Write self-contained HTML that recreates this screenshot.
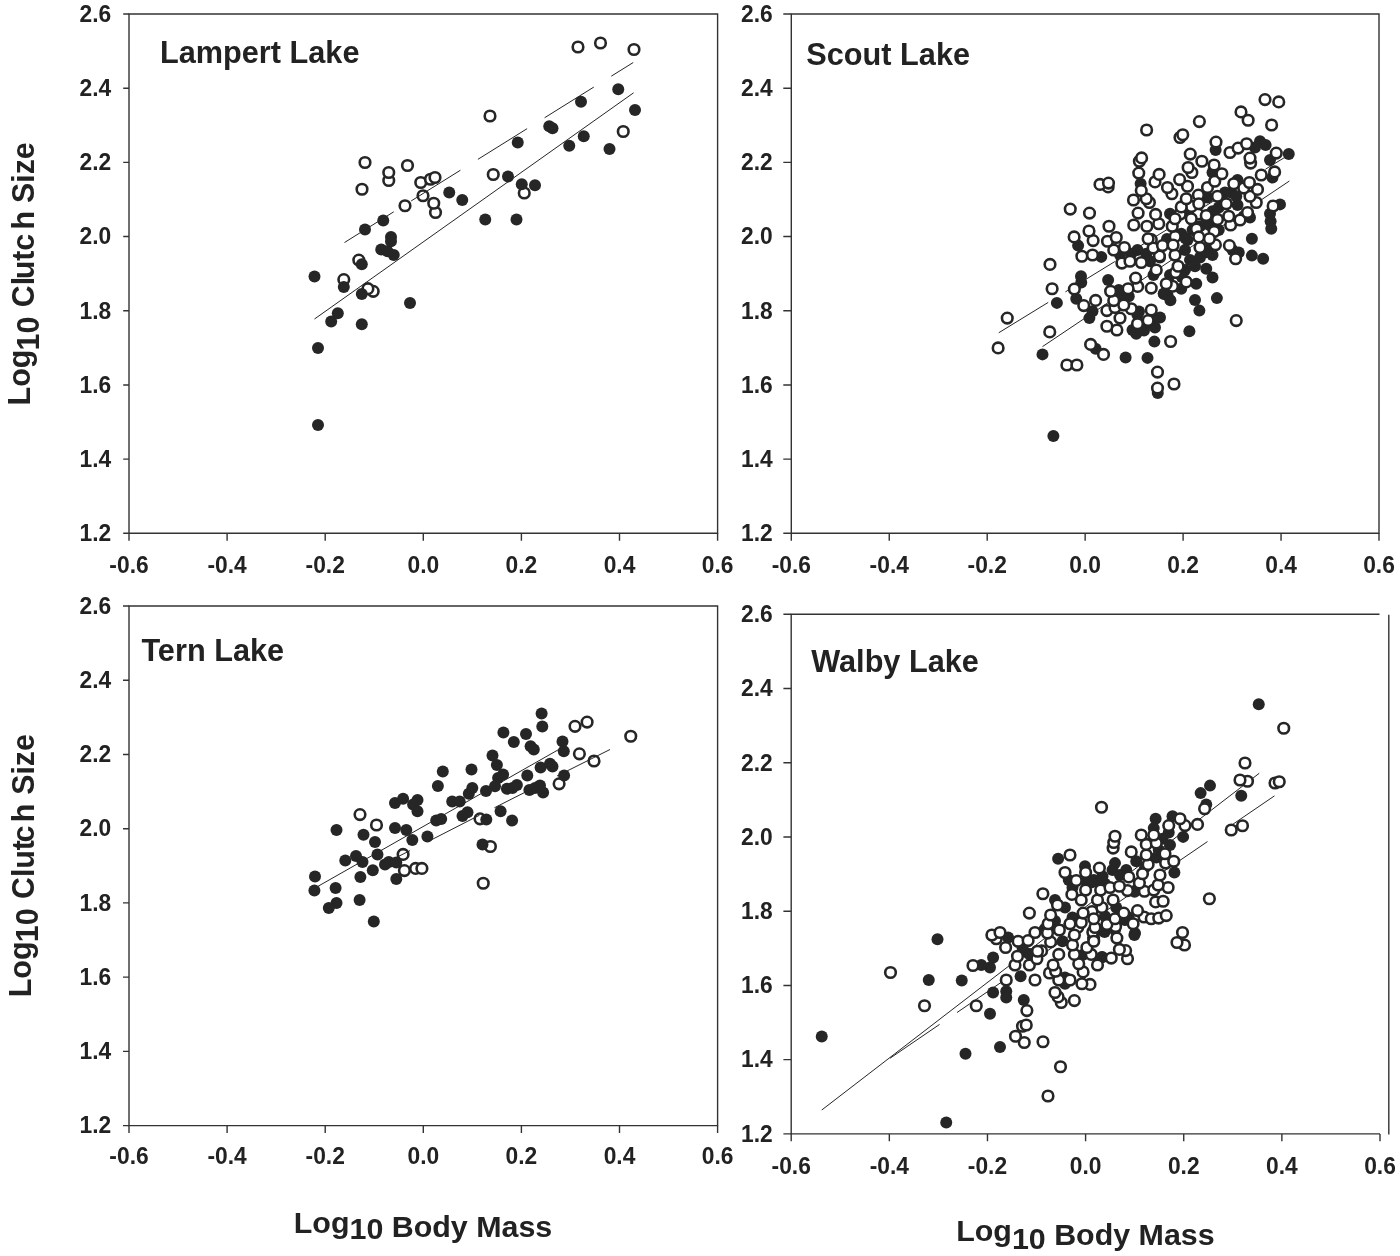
<!DOCTYPE html>
<html><head><meta charset="utf-8"><title>Log10 Clutch Size vs Log10 Body Mass</title>
<style>
html,body{margin:0;padding:0;background:#fff}
svg{display:block;will-change:transform}
text{font-family:"Liberation Sans",Arial,Helvetica,sans-serif;font-weight:bold;fill:#222}
.tk text{font-size:22.8px}
.ti{font-size:30.7px}
.at{font-size:30.4px}
</style></head><body>
<svg width="1400" height="1256" viewBox="0 0 1400 1256">
<rect width="1400" height="1256" fill="#fff"/>
<g id="p1">
<path d="M129 14H717.6V533.3H129Z" fill="none" stroke="#333" stroke-width="1.4"/><path d="M123.2 14H129M123.2 88.19H129M123.2 162.37H129M123.2 236.56H129M123.2 310.74H129M123.2 384.93H129M123.2 459.11H129M123.2 533.3H129M129 533.3V540.7M227.1 533.3V540.7M325.2 533.3V540.7M423.3 533.3V540.7M521.4 533.3V540.7M619.5 533.3V540.7M717.6 533.3V540.7" fill="none" stroke="#333" stroke-width="1.4"/><g class="tk"><text transform="translate(111.3 21.8) scale(1 1.03)" text-anchor="end">2.6</text><text transform="translate(111.3 95.99) scale(1 1.03)" text-anchor="end">2.4</text><text transform="translate(111.3 170.17) scale(1 1.03)" text-anchor="end">2.2</text><text transform="translate(111.3 244.36) scale(1 1.03)" text-anchor="end">2.0</text><text transform="translate(111.3 318.54) scale(1 1.03)" text-anchor="end">1.8</text><text transform="translate(111.3 392.73) scale(1 1.03)" text-anchor="end">1.6</text><text transform="translate(111.3 466.91) scale(1 1.03)" text-anchor="end">1.4</text><text transform="translate(111.3 541.1) scale(1 1.03)" text-anchor="end">1.2</text><text transform="translate(129 573) scale(1 1.03)" text-anchor="middle">-0.6</text><text transform="translate(227.1 573) scale(1 1.03)" text-anchor="middle">-0.4</text><text transform="translate(325.2 573) scale(1 1.03)" text-anchor="middle">-0.2</text><text transform="translate(423.3 573) scale(1 1.03)" text-anchor="middle">0.0</text><text transform="translate(521.4 573) scale(1 1.03)" text-anchor="middle">0.2</text><text transform="translate(619.5 573) scale(1 1.03)" text-anchor="middle">0.4</text><text transform="translate(717.6 573) scale(1 1.03)" text-anchor="middle">0.6</text></g><text class="ti" transform="translate(159.9 62.6) scale(1 1.027)">Lampert Lake</text>
<g fill="#fff" stroke="#262626" stroke-width="2.6"><circle cx="373.2" cy="291.3" r="5.3"/><circle cx="367.9" cy="288.7" r="5.3"/><circle cx="343.8" cy="279.6" r="5.3"/><circle cx="358.8" cy="260.1" r="5.3"/><circle cx="435.5" cy="212.5" r="5.3"/><circle cx="405" cy="205.75" r="5.3"/><circle cx="433.75" cy="203.25" r="5.3"/><circle cx="423" cy="195.75" r="5.3"/><circle cx="524.25" cy="193" r="5.3"/><circle cx="362" cy="189.25" r="5.3"/><circle cx="420.75" cy="182.5" r="5.3"/><circle cx="388.75" cy="180.5" r="5.3"/><circle cx="430.5" cy="179.25" r="5.3"/><circle cx="435" cy="177.5" r="5.3"/><circle cx="493.25" cy="174.5" r="5.3"/><circle cx="388.75" cy="172.5" r="5.3"/><circle cx="407.5" cy="165.5" r="5.3"/><circle cx="365" cy="162.5" r="5.3"/><circle cx="623.25" cy="131.5" r="5.3"/><circle cx="490" cy="116" r="5.3"/><circle cx="634" cy="49.5" r="5.3"/><circle cx="578" cy="47" r="5.3"/><circle cx="600.5" cy="43" r="5.3"/></g>
<g fill="#262626"><circle cx="618.25" cy="89.25" r="6"/><circle cx="581" cy="101.75" r="6"/><circle cx="635" cy="110" r="6"/><circle cx="549.25" cy="126.25" r="6"/><circle cx="552.5" cy="128.25" r="6"/><circle cx="583.75" cy="136.25" r="6"/><circle cx="569.25" cy="145.75" r="6"/><circle cx="609.5" cy="149" r="6"/><circle cx="517.75" cy="142.5" r="6"/><circle cx="508" cy="176.5" r="6"/><circle cx="521.75" cy="184.25" r="6"/><circle cx="535" cy="185.25" r="6"/><circle cx="449.25" cy="192.5" r="6"/><circle cx="462.25" cy="200" r="6"/><circle cx="485.25" cy="219.5" r="6"/><circle cx="516.5" cy="219.5" r="6"/><circle cx="383.25" cy="220.5" r="6"/><circle cx="365" cy="229.5" r="6"/><circle cx="391" cy="237" r="6"/><circle cx="391" cy="241.25" r="6"/><circle cx="381.25" cy="249.5" r="6"/><circle cx="387.5" cy="251.25" r="6"/><circle cx="393.75" cy="255" r="6"/><circle cx="361.8" cy="264.2" r="6"/><circle cx="314.5" cy="276.4" r="6"/><circle cx="343.8" cy="286.9" r="6"/><circle cx="361.8" cy="293.9" r="6"/><circle cx="410" cy="303" r="6"/><circle cx="337.8" cy="313.2" r="6"/><circle cx="331.2" cy="321.4" r="6"/><circle cx="361.8" cy="324.2" r="6"/><circle cx="318" cy="347.9" r="6"/><circle cx="318" cy="424.9" r="6"/></g>
<g stroke="#262626" stroke-width="1" fill="none"><line x1="314.5" y1="319" x2="633.6" y2="92.8"/><line x1="344.5" y1="242.5" x2="633.25" y2="62.5" stroke-dasharray="58 20.6"/></g>
</g>
<g id="p2">
<path d="M791.3 14H1379V533.3H791.3Z" fill="none" stroke="#333" stroke-width="1.4"/><path d="M783.3 14H791.3M783.3 88.19H791.3M783.3 162.37H791.3M783.3 236.56H791.3M783.3 310.74H791.3M783.3 384.93H791.3M783.3 459.11H791.3M783.3 533.3H791.3M791.3 533.3V540.7M889.25 533.3V540.7M987.2 533.3V540.7M1085.15 533.3V540.7M1183.1 533.3V540.7M1281.05 533.3V540.7M1379 533.3V540.7" fill="none" stroke="#333" stroke-width="1.4"/><g class="tk"><text transform="translate(772.8 21.8) scale(1 1.03)" text-anchor="end">2.6</text><text transform="translate(772.8 95.99) scale(1 1.03)" text-anchor="end">2.4</text><text transform="translate(772.8 170.17) scale(1 1.03)" text-anchor="end">2.2</text><text transform="translate(772.8 244.36) scale(1 1.03)" text-anchor="end">2.0</text><text transform="translate(772.8 318.54) scale(1 1.03)" text-anchor="end">1.8</text><text transform="translate(772.8 392.73) scale(1 1.03)" text-anchor="end">1.6</text><text transform="translate(772.8 466.91) scale(1 1.03)" text-anchor="end">1.4</text><text transform="translate(772.8 541.1) scale(1 1.03)" text-anchor="end">1.2</text><text transform="translate(791.3 573) scale(1 1.03)" text-anchor="middle">-0.6</text><text transform="translate(889.25 573) scale(1 1.03)" text-anchor="middle">-0.4</text><text transform="translate(987.2 573) scale(1 1.03)" text-anchor="middle">-0.2</text><text transform="translate(1085.15 573) scale(1 1.03)" text-anchor="middle">0.0</text><text transform="translate(1183.1 573) scale(1 1.03)" text-anchor="middle">0.2</text><text transform="translate(1281.05 573) scale(1 1.03)" text-anchor="middle">0.4</text><text transform="translate(1379 573) scale(1 1.03)" text-anchor="middle">0.6</text></g><text class="ti" transform="translate(806.3 65.2) scale(1 1.027)">Scout Lake</text>
<g stroke="#262626" stroke-width="1" fill="none"><line x1="1042.5" y1="346.6" x2="1289.4" y2="181"/><line x1="998.75" y1="332.75" x2="1288" y2="155.4" stroke-dasharray="58 20.2"/></g>
<g fill="#262626"><circle cx="1140.62" cy="183.75" r="6"/><circle cx="1260" cy="141.25" r="6"/><circle cx="1265.62" cy="145" r="6"/><circle cx="1255" cy="147.5" r="6"/><circle cx="1215.62" cy="150" r="6"/><circle cx="1288.75" cy="154" r="6"/><circle cx="1270" cy="160" r="6"/><circle cx="1212.5" cy="172.5" r="6"/><circle cx="1272.5" cy="177.5" r="6"/><circle cx="1237.5" cy="180" r="6"/><circle cx="1280" cy="204.38" r="6"/><circle cx="1270" cy="213.75" r="6"/><circle cx="1270.62" cy="221.25" r="6"/><circle cx="1271.25" cy="228.75" r="6"/><circle cx="1251.88" cy="238.75" r="6"/><circle cx="1251.88" cy="255.62" r="6"/><circle cx="1263.12" cy="258.75" r="6"/><circle cx="1216.88" cy="298.12" r="6"/><circle cx="1195" cy="300" r="6"/><circle cx="1199.38" cy="310.62" r="6"/><circle cx="1189.38" cy="331.25" r="6"/><circle cx="1108.12" cy="280" r="6"/><circle cx="1167.5" cy="295" r="6"/><circle cx="1212.5" cy="277.5" r="6"/><circle cx="1206.25" cy="268.75" r="6"/><circle cx="1181.25" cy="233.75" r="6"/><circle cx="1185" cy="250" r="6"/><circle cx="1190" cy="260" r="6"/><circle cx="1200" cy="257.5" r="6"/><circle cx="1212.5" cy="255" r="6"/><circle cx="1170" cy="275" r="6"/><circle cx="1196.25" cy="283.75" r="6"/><circle cx="1181.25" cy="288.75" r="6"/><circle cx="1146.25" cy="253.75" r="6"/><circle cx="1137.5" cy="250" r="6"/><circle cx="1150" cy="261.25" r="6"/><circle cx="1120" cy="255" r="6"/><circle cx="1122.5" cy="295" r="6"/><circle cx="1137.5" cy="315" r="6"/><circle cx="1160" cy="317.5" r="6"/><circle cx="1155" cy="327.5" r="6"/><circle cx="1132.5" cy="330" r="6"/><circle cx="1231.25" cy="192.5" r="6"/><circle cx="1237.5" cy="205" r="6"/><circle cx="1218.75" cy="207.5" r="6"/><circle cx="1250" cy="217.5" r="6"/><circle cx="1207.5" cy="197.5" r="6"/><circle cx="1200" cy="226.25" r="6"/><circle cx="1218.75" cy="230" r="6"/><circle cx="1170" cy="213.75" r="6"/><circle cx="1232.5" cy="250" r="6"/><circle cx="1238.75" cy="252.5" r="6"/><circle cx="1187.5" cy="240" r="6"/><circle cx="1195" cy="266.25" r="6"/><circle cx="1185" cy="270" r="6"/><circle cx="1206.25" cy="250" r="6"/><circle cx="1192.5" cy="230" r="6"/><circle cx="1243.75" cy="216.25" r="6"/><circle cx="1225" cy="192.5" r="6"/><circle cx="1236.25" cy="196.25" r="6"/><circle cx="1212.5" cy="211.25" r="6"/><circle cx="1160" cy="257.5" r="6"/><circle cx="1131.25" cy="253.75" r="6"/><circle cx="1152.5" cy="317.5" r="6"/><circle cx="1128.75" cy="296.25" r="6"/><circle cx="1118.75" cy="290" r="6"/><circle cx="1163.75" cy="293.75" r="6"/><circle cx="1056.88" cy="302.88" r="6"/><circle cx="1042.5" cy="354.38" r="6"/><circle cx="1081" cy="276.25" r="6"/><circle cx="1081.25" cy="282.5" r="6"/><circle cx="1076.25" cy="298.75" r="6"/><circle cx="1092.5" cy="311.25" r="6"/><circle cx="1089.38" cy="318.12" r="6"/><circle cx="1125.62" cy="357.5" r="6"/><circle cx="1095.62" cy="348.75" r="6"/><circle cx="1078.12" cy="245.62" r="6"/><circle cx="1101.25" cy="256.88" r="6"/><circle cx="1154.38" cy="341.62" r="6"/><circle cx="1147.5" cy="357.88" r="6"/><circle cx="1163.75" cy="293.75" r="6"/><circle cx="1136.25" cy="333.75" r="6"/><circle cx="1143.75" cy="327.5" r="6"/><circle cx="1157.75" cy="393.12" r="6"/><circle cx="1053.38" cy="436" r="6"/><circle cx="1187.7" cy="212.7" r="6"/><circle cx="1209.7" cy="225.3" r="6"/><circle cx="1206.6" cy="220.9" r="6"/><circle cx="1185.2" cy="237.9" r="6"/><circle cx="1206.6" cy="252.3" r="6"/><circle cx="1167" cy="239.1" r="6"/><circle cx="1153.5" cy="275.1" r="6"/><circle cx="1181.8" cy="277" r="6"/><circle cx="1170.4" cy="300.3" r="6"/><circle cx="1144" cy="330.5" r="6"/><circle cx="1139" cy="311.6" r="6"/></g>
<g fill="#fff" stroke="#262626" stroke-width="2.6"><circle cx="1137.7" cy="286.4" r="5.3"/><circle cx="1159.4" cy="256.1" r="5.3"/><circle cx="1215.4" cy="244.8" r="5.3"/><circle cx="1151.3" cy="239.7" r="5.3"/><circle cx="1175.2" cy="236.6" r="5.3"/><circle cx="1214.2" cy="231.6" r="5.3"/><circle cx="1196.5" cy="229" r="5.3"/><circle cx="1180.2" cy="214" r="5.3"/><circle cx="1197.8" cy="214" r="5.3"/><circle cx="1191.5" cy="206.4" r="5.3"/><circle cx="1198.4" cy="195.1" r="5.3"/></g>
<g fill="#fff" stroke="#262626" stroke-width="2.6"><circle cx="1157.5" cy="388.12" r="5.3"/><circle cx="1174" cy="384" r="5.3"/><circle cx="1157.5" cy="372.12" r="5.3"/><circle cx="1066.88" cy="365" r="5.3"/><circle cx="1076.88" cy="365" r="5.3"/><circle cx="1103.5" cy="354.38" r="5.3"/><circle cx="998.12" cy="347.88" r="5.3"/><circle cx="1090.62" cy="344.38" r="5.3"/><circle cx="1170.62" cy="341.5" r="5.3"/><circle cx="1049.75" cy="331.88" r="5.3"/><circle cx="1116.88" cy="330" r="5.3"/><circle cx="1106.88" cy="326.25" r="5.3"/><circle cx="1137.5" cy="323.75" r="5.3"/><circle cx="1148.12" cy="320.62" r="5.3"/><circle cx="1236.25" cy="320.62" r="5.3"/><circle cx="1120" cy="318.12" r="5.3"/><circle cx="1007.25" cy="318.12" r="5.3"/><circle cx="1106.88" cy="310.62" r="5.3"/><circle cx="1151.25" cy="310" r="5.3"/><circle cx="1131.25" cy="308.75" r="5.3"/><circle cx="1115" cy="307.5" r="5.3"/><circle cx="1083.75" cy="305.62" r="5.3"/><circle cx="1123.75" cy="305" r="5.3"/><circle cx="1113.75" cy="300.62" r="5.3"/><circle cx="1095.62" cy="300.38" r="5.3"/><circle cx="1110.62" cy="291.25" r="5.3"/><circle cx="1074.38" cy="289.12" r="5.3"/><circle cx="1128.12" cy="288.75" r="5.3"/><circle cx="1052.12" cy="288.75" r="5.3"/><circle cx="1151.25" cy="288.12" r="5.3"/><circle cx="1172.5" cy="286.25" r="5.3"/><circle cx="1166.25" cy="283.75" r="5.3"/><circle cx="1186.25" cy="281.88" r="5.3"/><circle cx="1135.62" cy="278.12" r="5.3"/><circle cx="1175.62" cy="272.5" r="5.3"/><circle cx="1156.25" cy="270" r="5.3"/><circle cx="1178.12" cy="266.25" r="5.3"/><circle cx="1050" cy="264.38" r="5.3"/><circle cx="1121.88" cy="263.12" r="5.3"/><circle cx="1141.25" cy="262.5" r="5.3"/><circle cx="1130" cy="261.25" r="5.3"/><circle cx="1235.62" cy="258.75" r="5.3"/><circle cx="1081.88" cy="256.25" r="5.3"/><circle cx="1175" cy="255" r="5.3"/><circle cx="1092.5" cy="255" r="5.3"/><circle cx="1113.75" cy="250" r="5.3"/><circle cx="1153.12" cy="248.12" r="5.3"/><circle cx="1124.38" cy="247.5" r="5.3"/><circle cx="1200" cy="247.5" r="5.3"/><circle cx="1162.5" cy="245.62" r="5.3"/><circle cx="1229.38" cy="245.62" r="5.3"/><circle cx="1173.12" cy="245" r="5.3"/><circle cx="1107.5" cy="241.25" r="5.3"/><circle cx="1093.12" cy="240.62" r="5.3"/><circle cx="1148.12" cy="238.75" r="5.3"/><circle cx="1209.38" cy="238.75" r="5.3"/><circle cx="1116.25" cy="237.5" r="5.3"/><circle cx="1074.12" cy="236.88" r="5.3"/><circle cx="1198.75" cy="236.88" r="5.3"/><circle cx="1089" cy="231" r="5.3"/><circle cx="1109" cy="226.25" r="5.3"/><circle cx="1146.88" cy="226.25" r="5.3"/><circle cx="1172.25" cy="226.25" r="5.3"/><circle cx="1133.75" cy="225" r="5.3"/><circle cx="1230.62" cy="225" r="5.3"/><circle cx="1158.75" cy="223.75" r="5.3"/><circle cx="1240" cy="220" r="5.3"/><circle cx="1217.5" cy="219.38" r="5.3"/><circle cx="1191.25" cy="218.75" r="5.3"/><circle cx="1175" cy="218.75" r="5.3"/><circle cx="1228.75" cy="216.25" r="5.3"/><circle cx="1206.25" cy="215.62" r="5.3"/><circle cx="1155.62" cy="214.38" r="5.3"/><circle cx="1089.5" cy="213.12" r="5.3"/><circle cx="1138.12" cy="213.12" r="5.3"/><circle cx="1247.5" cy="212.5" r="5.3"/><circle cx="1070.25" cy="209.12" r="5.3"/><circle cx="1181.25" cy="206.88" r="5.3"/><circle cx="1273.12" cy="206" r="5.3"/><circle cx="1198.75" cy="203.75" r="5.3"/><circle cx="1226.25" cy="203.75" r="5.3"/><circle cx="1149.38" cy="202.5" r="5.3"/><circle cx="1256.25" cy="202.5" r="5.3"/><circle cx="1133.5" cy="200" r="5.3"/><circle cx="1146.25" cy="198.75" r="5.3"/><circle cx="1186.25" cy="198.75" r="5.3"/><circle cx="1217.5" cy="196.25" r="5.3"/><circle cx="1250" cy="196.25" r="5.3"/><circle cx="1171.88" cy="193.75" r="5.3"/><circle cx="1141.25" cy="190.62" r="5.3"/><circle cx="1257.5" cy="189.38" r="5.3"/><circle cx="1243.75" cy="188.12" r="5.3"/><circle cx="1167.5" cy="187.5" r="5.3"/><circle cx="1207.5" cy="187.5" r="5.3"/><circle cx="1108.12" cy="186.88" r="5.3"/><circle cx="1187.5" cy="186.25" r="5.3"/><circle cx="1100" cy="184.38" r="5.3"/><circle cx="1233.75" cy="183.75" r="5.3"/><circle cx="1108.5" cy="183.12" r="5.3"/><circle cx="1249.38" cy="182.5" r="5.3"/><circle cx="1155" cy="181.88" r="5.3"/><circle cx="1214.75" cy="181.25" r="5.3"/><circle cx="1179.62" cy="179.62" r="5.3"/><circle cx="1261.25" cy="175" r="5.3"/><circle cx="1159.12" cy="174.38" r="5.3"/><circle cx="1221.88" cy="173.75" r="5.3"/><circle cx="1138.75" cy="173.12" r="5.3"/><circle cx="1191.88" cy="172.5" r="5.3"/><circle cx="1274.62" cy="171.88" r="5.3"/><circle cx="1188.12" cy="167.5" r="5.3"/><circle cx="1214.12" cy="165" r="5.3"/><circle cx="1250.62" cy="163.12" r="5.3"/><circle cx="1139.38" cy="161.25" r="5.3"/><circle cx="1201.88" cy="161.25" r="5.3"/><circle cx="1250" cy="158.12" r="5.3"/><circle cx="1141.62" cy="157.88" r="5.3"/><circle cx="1190.25" cy="154.12" r="5.3"/><circle cx="1276.25" cy="153.12" r="5.3"/><circle cx="1230" cy="152.5" r="5.3"/><circle cx="1238.12" cy="148.12" r="5.3"/><circle cx="1246.62" cy="143.75" r="5.3"/><circle cx="1216" cy="142.12" r="5.3"/><circle cx="1180" cy="137.5" r="5.3"/><circle cx="1182.75" cy="134.75" r="5.3"/><circle cx="1146.62" cy="130" r="5.3"/><circle cx="1271.62" cy="125" r="5.3"/><circle cx="1199.38" cy="121.62" r="5.3"/><circle cx="1248.12" cy="120.25" r="5.3"/><circle cx="1241" cy="111.88" r="5.3"/><circle cx="1278.75" cy="101.88" r="5.3"/><circle cx="1265" cy="99.62" r="5.3"/></g>
</g>
<g id="p3">
<path d="M129 606H717.6V1125.6H129Z" fill="none" stroke="#333" stroke-width="1.4"/><path d="M123 606H129M123 680.23H129M123 754.46H129M123 828.69H129M123 902.91H129M123 977.14H129M123 1051.37H129M123 1125.6H129M129 1125.6V1132.9M227.1 1125.6V1132.9M325.2 1125.6V1132.9M423.3 1125.6V1132.9M521.4 1125.6V1132.9M619.5 1125.6V1132.9M717.6 1125.6V1132.9" fill="none" stroke="#333" stroke-width="1.4"/><g class="tk"><text transform="translate(111.3 613.8) scale(1 1.03)" text-anchor="end">2.6</text><text transform="translate(111.3 688.03) scale(1 1.03)" text-anchor="end">2.4</text><text transform="translate(111.3 762.26) scale(1 1.03)" text-anchor="end">2.2</text><text transform="translate(111.3 836.49) scale(1 1.03)" text-anchor="end">2.0</text><text transform="translate(111.3 910.71) scale(1 1.03)" text-anchor="end">1.8</text><text transform="translate(111.3 984.94) scale(1 1.03)" text-anchor="end">1.6</text><text transform="translate(111.3 1059.17) scale(1 1.03)" text-anchor="end">1.4</text><text transform="translate(111.3 1133.4) scale(1 1.03)" text-anchor="end">1.2</text><text transform="translate(129 1164) scale(1 1.03)" text-anchor="middle">-0.6</text><text transform="translate(227.1 1164) scale(1 1.03)" text-anchor="middle">-0.4</text><text transform="translate(325.2 1164) scale(1 1.03)" text-anchor="middle">-0.2</text><text transform="translate(423.3 1164) scale(1 1.03)" text-anchor="middle">0.0</text><text transform="translate(521.4 1164) scale(1 1.03)" text-anchor="middle">0.2</text><text transform="translate(619.5 1164) scale(1 1.03)" text-anchor="middle">0.4</text><text transform="translate(717.6 1164) scale(1 1.03)" text-anchor="middle">0.6</text></g><text class="ti" transform="translate(141.4 661) scale(1 1.027)">Tern Lake</text>
<g fill="#fff" stroke="#262626" stroke-width="2.6"><circle cx="483.25" cy="883.25" r="5.3"/><circle cx="404.4" cy="870.6" r="5.3"/><circle cx="415.6" cy="868.4" r="5.3"/><circle cx="421.9" cy="868.4" r="5.3"/><circle cx="403.1" cy="854.4" r="5.3"/><circle cx="490.4" cy="846.5" r="5.3"/><circle cx="376.5" cy="825" r="5.3"/><circle cx="480" cy="818.8" r="5.3"/><circle cx="360" cy="814.6" r="5.3"/><circle cx="559.1" cy="783.8" r="5.3"/><circle cx="594" cy="761" r="5.3"/><circle cx="579.4" cy="753.8" r="5.3"/><circle cx="630.75" cy="736.25" r="5.3"/><circle cx="575" cy="726.3" r="5.3"/><circle cx="587.1" cy="722.1" r="5.3"/></g>
<g fill="#262626"><circle cx="437.9" cy="786" r="6"/><circle cx="395" cy="803.1" r="6"/><circle cx="403.1" cy="798.8" r="6"/><circle cx="417.5" cy="800" r="6"/><circle cx="413.1" cy="804.4" r="6"/><circle cx="417.5" cy="811.3" r="6"/><circle cx="452.2" cy="801.6" r="6"/><circle cx="459.7" cy="801.6" r="6"/><circle cx="468.8" cy="793.8" r="6"/><circle cx="462.5" cy="816" r="6"/><circle cx="467.5" cy="812.2" r="6"/><circle cx="436.2" cy="820.6" r="6"/><circle cx="441.2" cy="818.9" r="6"/><circle cx="336.5" cy="830" r="6"/><circle cx="395" cy="828.1" r="6"/><circle cx="406.3" cy="830" r="6"/><circle cx="363.5" cy="834.8" r="6"/><circle cx="375" cy="841.9" r="6"/><circle cx="412.3" cy="840" r="6"/><circle cx="427.4" cy="836.5" r="6"/><circle cx="377.5" cy="854.6" r="6"/><circle cx="345.3" cy="860.4" r="6"/><circle cx="356" cy="856" r="6"/><circle cx="362.5" cy="861.9" r="6"/><circle cx="385" cy="864.4" r="6"/><circle cx="388.8" cy="861.9" r="6"/><circle cx="396.3" cy="862.5" r="6"/><circle cx="372.8" cy="870.3" r="6"/><circle cx="360.4" cy="877.1" r="6"/><circle cx="396.3" cy="879.1" r="6"/><circle cx="315" cy="876.5" r="6"/><circle cx="314.4" cy="890.6" r="6"/><circle cx="335.6" cy="887.9" r="6"/><circle cx="359.6" cy="900" r="6"/><circle cx="336.5" cy="903.1" r="6"/><circle cx="328.8" cy="907.9" r="6"/><circle cx="373.8" cy="921.6" r="6"/><circle cx="541.6" cy="713.4" r="6"/><circle cx="542.3" cy="726.6" r="6"/><circle cx="503.4" cy="732.5" r="6"/><circle cx="526" cy="734.1" r="6"/><circle cx="513.8" cy="741.9" r="6"/><circle cx="530.6" cy="746.3" r="6"/><circle cx="533.8" cy="749.6" r="6"/><circle cx="562.5" cy="741.6" r="6"/><circle cx="563.8" cy="751.3" r="6"/><circle cx="492.5" cy="755.6" r="6"/><circle cx="496.9" cy="765" r="6"/><circle cx="550" cy="763.8" r="6"/><circle cx="552.5" cy="766.5" r="6"/><circle cx="540.6" cy="767.5" r="6"/><circle cx="442.8" cy="771.6" r="6"/><circle cx="471.5" cy="769.6" r="6"/><circle cx="503.1" cy="774.4" r="6"/><circle cx="498.1" cy="778.1" r="6"/><circle cx="527.3" cy="775.6" r="6"/><circle cx="564.1" cy="775.6" r="6"/><circle cx="472.3" cy="788.1" r="6"/><circle cx="495" cy="786.3" r="6"/><circle cx="486" cy="791" r="6"/><circle cx="516.9" cy="785" r="6"/><circle cx="512.5" cy="788.1" r="6"/><circle cx="506.9" cy="788.8" r="6"/><circle cx="540" cy="785.6" r="6"/><circle cx="535" cy="788.1" r="6"/><circle cx="529.4" cy="790" r="6"/><circle cx="543.1" cy="792.5" r="6"/><circle cx="500.6" cy="811.3" r="6"/><circle cx="486.3" cy="819.4" r="6"/><circle cx="512.1" cy="820.6" r="6"/><circle cx="482.5" cy="844.4" r="6"/></g>
<g stroke="#262626" stroke-width="1" fill="none"><line x1="318.1" y1="886.25" x2="559.6" y2="749"/><line x1="398.75" y1="856.25" x2="410" y2="850.6"/><line x1="432" y1="839.5" x2="479.5" y2="815.2"/><line x1="494.4" y1="807.75" x2="543" y2="783.2"/><line x1="557" y1="776" x2="610" y2="749.5"/></g>
</g>
<g id="p4">
<path d="M1379.5 614.3H791.2V1133.9H1380M1388.8 614.7V1134.4" fill="none" stroke="#333" stroke-width="1.4"/><path d="M783.4 614.3H791.2M783.4 688.53H791.2M783.4 762.76H791.2M783.4 836.99H791.2M783.4 911.21H791.2M783.4 985.44H791.2M783.4 1059.67H791.2M783.4 1133.9H791.2M791.2 1133.9V1141.2M889.33 1133.9V1141.2M987.47 1133.9V1141.2M1085.6 1133.9V1141.2M1183.73 1133.9V1141.2M1281.87 1133.9V1141.2M1380 1133.9V1141.2" fill="none" stroke="#333" stroke-width="1.4"/><g class="tk"><text transform="translate(772.8 622.1) scale(1 1.03)" text-anchor="end">2.6</text><text transform="translate(772.8 696.33) scale(1 1.03)" text-anchor="end">2.4</text><text transform="translate(772.8 770.56) scale(1 1.03)" text-anchor="end">2.2</text><text transform="translate(772.8 844.79) scale(1 1.03)" text-anchor="end">2.0</text><text transform="translate(772.8 919.01) scale(1 1.03)" text-anchor="end">1.8</text><text transform="translate(772.8 993.24) scale(1 1.03)" text-anchor="end">1.6</text><text transform="translate(772.8 1067.47) scale(1 1.03)" text-anchor="end">1.4</text><text transform="translate(772.8 1141.7) scale(1 1.03)" text-anchor="end">1.2</text><text transform="translate(791.2 1173.6) scale(1 1.03)" text-anchor="middle">-0.6</text><text transform="translate(889.33 1173.6) scale(1 1.03)" text-anchor="middle">-0.4</text><text transform="translate(987.47 1173.6) scale(1 1.03)" text-anchor="middle">-0.2</text><text transform="translate(1085.6 1173.6) scale(1 1.03)" text-anchor="middle">0.0</text><text transform="translate(1183.73 1173.6) scale(1 1.03)" text-anchor="middle">0.2</text><text transform="translate(1281.87 1173.6) scale(1 1.03)" text-anchor="middle">0.4</text><text transform="translate(1380 1173.6) scale(1 1.03)" text-anchor="middle">0.6</text></g><text class="ti" transform="translate(811.2 672.2) scale(1 1.027)">Walby Lake</text>
<g stroke="#262626" stroke-width="1" fill="none"><line x1="821.75" y1="1110" x2="1259.25" y2="773.25"/><line x1="890" y1="1058.25" x2="1275" y2="795.5" stroke-dasharray="60 21.1"/></g>
<g fill="#262626"><circle cx="1210" cy="785.62" r="6"/><circle cx="1200.62" cy="793.12" r="6"/><circle cx="1206.25" cy="804.38" r="6"/><circle cx="1172.5" cy="816.25" r="6"/><circle cx="1155.62" cy="818.75" r="6"/><circle cx="1153.75" cy="828.12" r="6"/><circle cx="1183.12" cy="836.88" r="6"/><circle cx="1168.75" cy="832.5" r="6"/><circle cx="1170" cy="845" r="6"/><circle cx="1158.75" cy="850" r="6"/><circle cx="1058.12" cy="858.75" r="6"/><circle cx="1085" cy="866.25" r="6"/><circle cx="1115" cy="863.12" r="6"/><circle cx="1112.5" cy="870" r="6"/><circle cx="1126.25" cy="870" r="6"/><circle cx="1136.25" cy="861.25" r="6"/><circle cx="1174.38" cy="872.5" r="6"/><circle cx="1093.75" cy="880" r="6"/><circle cx="1102.5" cy="876.25" r="6"/><circle cx="1068.75" cy="880" r="6"/><circle cx="1086.25" cy="881.25" r="6"/><circle cx="1072.5" cy="887.5" r="6"/><circle cx="1136.25" cy="890" r="6"/><circle cx="1055" cy="900" r="6"/><circle cx="1156.25" cy="857.5" r="6"/><circle cx="1116.25" cy="907.5" r="6"/><circle cx="1105" cy="916.25" r="6"/><circle cx="1128.75" cy="917.5" r="6"/><circle cx="1135" cy="933.12" r="6"/><circle cx="1120" cy="875" r="6"/><circle cx="1105" cy="883.75" r="6"/><circle cx="1145" cy="867.5" r="6"/><circle cx="1162.5" cy="838.75" r="6"/><circle cx="1065" cy="907.5" r="6"/><circle cx="1072.5" cy="917.5" r="6"/><circle cx="1008.12" cy="937.5" r="6"/><circle cx="1055" cy="927.5" r="6"/><circle cx="993.12" cy="957.5" r="6"/><circle cx="990" cy="967.5" r="6"/><circle cx="1028.75" cy="953.75" r="6"/><circle cx="1134.38" cy="935" r="6"/><circle cx="1020.62" cy="976.25" r="6"/><circle cx="993.12" cy="992.5" r="6"/><circle cx="1006.25" cy="991.25" r="6"/><circle cx="1006.25" cy="997.5" r="6"/><circle cx="1023.75" cy="1000" r="6"/><circle cx="990" cy="1013.75" r="6"/><circle cx="1101.88" cy="956.88" r="6"/><circle cx="1065" cy="977.5" r="6"/><circle cx="1065" cy="983.75" r="6"/><circle cx="1125" cy="920" r="6"/><circle cx="1115" cy="930" r="6"/><circle cx="1022.5" cy="947.5" r="6"/><circle cx="1062.5" cy="941.25" r="6"/><circle cx="1082.5" cy="955" r="6"/><circle cx="1101.25" cy="930" r="6"/><circle cx="821.75" cy="1036.5" r="6"/><circle cx="937.5" cy="939.25" r="6"/><circle cx="928.75" cy="980" r="6"/><circle cx="961.75" cy="980.5" r="6"/><circle cx="981.25" cy="965" r="6"/><circle cx="1000" cy="1047" r="6"/><circle cx="965.5" cy="1053.75" r="6"/><circle cx="946.25" cy="1122.5" r="6"/><circle cx="1258.75" cy="704.25" r="6"/><circle cx="1241.25" cy="795.75" r="6"/><circle cx="1044.7" cy="928.9" r="6"/><circle cx="1055" cy="921" r="6"/><circle cx="1125" cy="919.4" r="6"/><circle cx="1104.6" cy="932" r="6"/><circle cx="1102.3" cy="957.2" r="6"/><circle cx="1134.6" cy="891.8" r="6"/><circle cx="1091.2" cy="882.4" r="6"/><circle cx="1100" cy="883" r="6"/></g>
<g fill="#fff" stroke="#262626" stroke-width="2.6"><circle cx="1049.5" cy="973" r="5.3"/><circle cx="1041.6" cy="950.9" r="5.3"/><circle cx="1093.6" cy="937.8" r="5.3"/><circle cx="1092.8" cy="932" r="5.3"/><circle cx="1077.8" cy="927.3" r="5.3"/><circle cx="1115.6" cy="926.5" r="5.3"/><circle cx="1144" cy="917" r="5.3"/><circle cx="1092" cy="911.5" r="5.3"/></g>
<g fill="#fff" stroke="#262626" stroke-width="2.6"><circle cx="1048" cy="1096" r="5.3"/><circle cx="1060.5" cy="1066.75" r="5.3"/><circle cx="1024.25" cy="1042.5" r="5.3"/><circle cx="1043" cy="1041.75" r="5.3"/><circle cx="1015.5" cy="1036.25" r="5.3"/><circle cx="1022.5" cy="1026.25" r="5.3"/><circle cx="1026.25" cy="1025" r="5.3"/><circle cx="1026.88" cy="1010.62" r="5.3"/><circle cx="924.5" cy="1005.75" r="5.3"/><circle cx="976.25" cy="1005.75" r="5.3"/><circle cx="1061.25" cy="1002.5" r="5.3"/><circle cx="1074.38" cy="1000.62" r="5.3"/><circle cx="1058.12" cy="996.88" r="5.3"/><circle cx="1055" cy="992.5" r="5.3"/><circle cx="1090" cy="984.38" r="5.3"/><circle cx="1081.88" cy="983.75" r="5.3"/><circle cx="1006.25" cy="980" r="5.3"/><circle cx="1035" cy="980" r="5.3"/><circle cx="1058.75" cy="980" r="5.3"/><circle cx="1070" cy="980" r="5.3"/><circle cx="890.5" cy="972.5" r="5.3"/><circle cx="1083.12" cy="971.88" r="5.3"/><circle cx="1055.62" cy="971.25" r="5.3"/><circle cx="973" cy="965.5" r="5.3"/><circle cx="1015" cy="965" r="5.3"/><circle cx="1029.38" cy="965" r="5.3"/><circle cx="1053.12" cy="965" r="5.3"/><circle cx="1097.5" cy="965" r="5.3"/><circle cx="1078.75" cy="963.75" r="5.3"/><circle cx="1127.5" cy="958.75" r="5.3"/><circle cx="1036.88" cy="958.75" r="5.3"/><circle cx="1111.25" cy="958.12" r="5.3"/><circle cx="1017.5" cy="956.25" r="5.3"/><circle cx="1058.75" cy="954.38" r="5.3"/><circle cx="1074.38" cy="954.38" r="5.3"/><circle cx="1091.25" cy="954.38" r="5.3"/><circle cx="1037.5" cy="951.25" r="5.3"/><circle cx="1125.62" cy="950.62" r="5.3"/><circle cx="1119.38" cy="949.38" r="5.3"/><circle cx="1005.62" cy="947.5" r="5.3"/><circle cx="1086.88" cy="947.5" r="5.3"/><circle cx="1072.5" cy="945" r="5.3"/><circle cx="1184.5" cy="945" r="5.3"/><circle cx="1177" cy="942.5" r="5.3"/><circle cx="1050.62" cy="941.88" r="5.3"/><circle cx="1018.12" cy="941.25" r="5.3"/><circle cx="1093.75" cy="941.25" r="5.3"/><circle cx="1028.12" cy="940.62" r="5.3"/><circle cx="996.25" cy="938.75" r="5.3"/><circle cx="1116.88" cy="938.12" r="5.3"/><circle cx="991.88" cy="935" r="5.3"/><circle cx="1074.38" cy="935" r="5.3"/><circle cx="1047.5" cy="933.12" r="5.3"/><circle cx="1182.5" cy="932.5" r="5.3"/><circle cx="1000" cy="932.5" r="5.3"/><circle cx="1035" cy="932.5" r="5.3"/><circle cx="1059.38" cy="930" r="5.3"/><circle cx="1095" cy="927.5" r="5.3"/><circle cx="1106.88" cy="924.38" r="5.3"/><circle cx="1048.12" cy="923.75" r="5.3"/><circle cx="1070" cy="923.75" r="5.3"/><circle cx="1133.12" cy="923.75" r="5.3"/><circle cx="1081.25" cy="922.5" r="5.3"/><circle cx="1093.75" cy="918.75" r="5.3"/><circle cx="1115" cy="918.75" r="5.3"/><circle cx="1151.25" cy="918.75" r="5.3"/><circle cx="1158.75" cy="918.12" r="5.3"/><circle cx="1166.25" cy="915.62" r="5.3"/><circle cx="1050.62" cy="915" r="5.3"/><circle cx="1029.38" cy="913.12" r="5.3"/><circle cx="1083.12" cy="913.12" r="5.3"/><circle cx="1123.75" cy="913.12" r="5.3"/><circle cx="1137.5" cy="910.62" r="5.3"/><circle cx="1101.88" cy="907.5" r="5.3"/><circle cx="1057.5" cy="905" r="5.3"/><circle cx="1155.62" cy="901.88" r="5.3"/><circle cx="1163.12" cy="901.25" r="5.3"/><circle cx="1097.5" cy="900" r="5.3"/><circle cx="1113.12" cy="900" r="5.3"/><circle cx="1081.25" cy="900" r="5.3"/><circle cx="1209.38" cy="898.75" r="5.3"/><circle cx="1071.88" cy="894.38" r="5.3"/><circle cx="1042.88" cy="893.75" r="5.3"/><circle cx="1144.38" cy="891.25" r="5.3"/><circle cx="1127.5" cy="890.62" r="5.3"/><circle cx="1085.62" cy="890" r="5.3"/><circle cx="1100.62" cy="890" r="5.3"/><circle cx="1153.75" cy="890" r="5.3"/><circle cx="1110" cy="887.5" r="5.3"/><circle cx="1168.12" cy="887.5" r="5.3"/><circle cx="1119.38" cy="886.25" r="5.3"/><circle cx="1158.12" cy="885" r="5.3"/><circle cx="1139.38" cy="883.12" r="5.3"/><circle cx="1076.25" cy="880.62" r="5.3"/><circle cx="1128.75" cy="876.88" r="5.3"/><circle cx="1160" cy="875" r="5.3"/><circle cx="1142.5" cy="873.75" r="5.3"/><circle cx="1065" cy="872.5" r="5.3"/><circle cx="1085.62" cy="872.5" r="5.3"/><circle cx="1099.38" cy="868.12" r="5.3"/><circle cx="1148.12" cy="864.38" r="5.3"/><circle cx="1165.62" cy="863.12" r="5.3"/><circle cx="1173.75" cy="861.25" r="5.3"/><circle cx="1146.25" cy="855" r="5.3"/><circle cx="1070" cy="855" r="5.3"/><circle cx="1165" cy="853.75" r="5.3"/><circle cx="1131.25" cy="851.88" r="5.3"/><circle cx="1113.12" cy="848.12" r="5.3"/><circle cx="1146.25" cy="844.38" r="5.3"/><circle cx="1156.25" cy="843.12" r="5.3"/><circle cx="1113.75" cy="842.5" r="5.3"/><circle cx="1115" cy="836.25" r="5.3"/><circle cx="1141.25" cy="835" r="5.3"/><circle cx="1153.75" cy="835" r="5.3"/><circle cx="1231.25" cy="830" r="5.3"/><circle cx="1242.5" cy="825.75" r="5.3"/><circle cx="1185" cy="825.62" r="5.3"/><circle cx="1168.75" cy="825.62" r="5.3"/><circle cx="1197.5" cy="824.38" r="5.3"/><circle cx="1180" cy="818.75" r="5.3"/><circle cx="1204.62" cy="808.75" r="5.3"/><circle cx="1101.5" cy="807.25" r="5.3"/><circle cx="1275" cy="783" r="5.3"/><circle cx="1279.25" cy="781.75" r="5.3"/><circle cx="1247.5" cy="781.25" r="5.3"/><circle cx="1240" cy="780" r="5.3"/><circle cx="1245" cy="763" r="5.3"/><circle cx="1283.75" cy="728.25" r="5.3"/></g>
</g>
<text class="at" x="293.8" y="1232.7">Log<tspan dy="6.7">10</tspan><tspan dy="-2.6"> Body Mass</tspan></text>
<text class="at" x="956.2" y="1241">Log<tspan dy="7.6">10</tspan><tspan dy="-3.9"> Body Mass</tspan></text>
<text class="at" transform="translate(0 405.4) rotate(-90) scale(1 1.045)" x="0" y="28.71">Log<tspan dy="8.23" dx="-0.7">10</tspan><tspan dy="-4.21"> </tspan><tspan dx="1">Cl</tspan><tspan dx="-2.6">ut</tspan><tspan dx="0">c</tspan><tspan dx="4.2">h</tspan><tspan dx="-0.5"> Size</tspan></text>
<text class="at" transform="translate(0 997.2) rotate(-90) scale(1 1.045)" x="0" y="29.67">Log<tspan dy="7.08" dx="-0.7">10</tspan><tspan dy="-4.02"> </tspan><tspan dx="1">Cl</tspan><tspan dx="-0.2">ut</tspan><tspan dx="-2.4">c</tspan><tspan dx="3.4">h</tspan><tspan dx="0.3"> Size</tspan></text>
</svg>
</body></html>
